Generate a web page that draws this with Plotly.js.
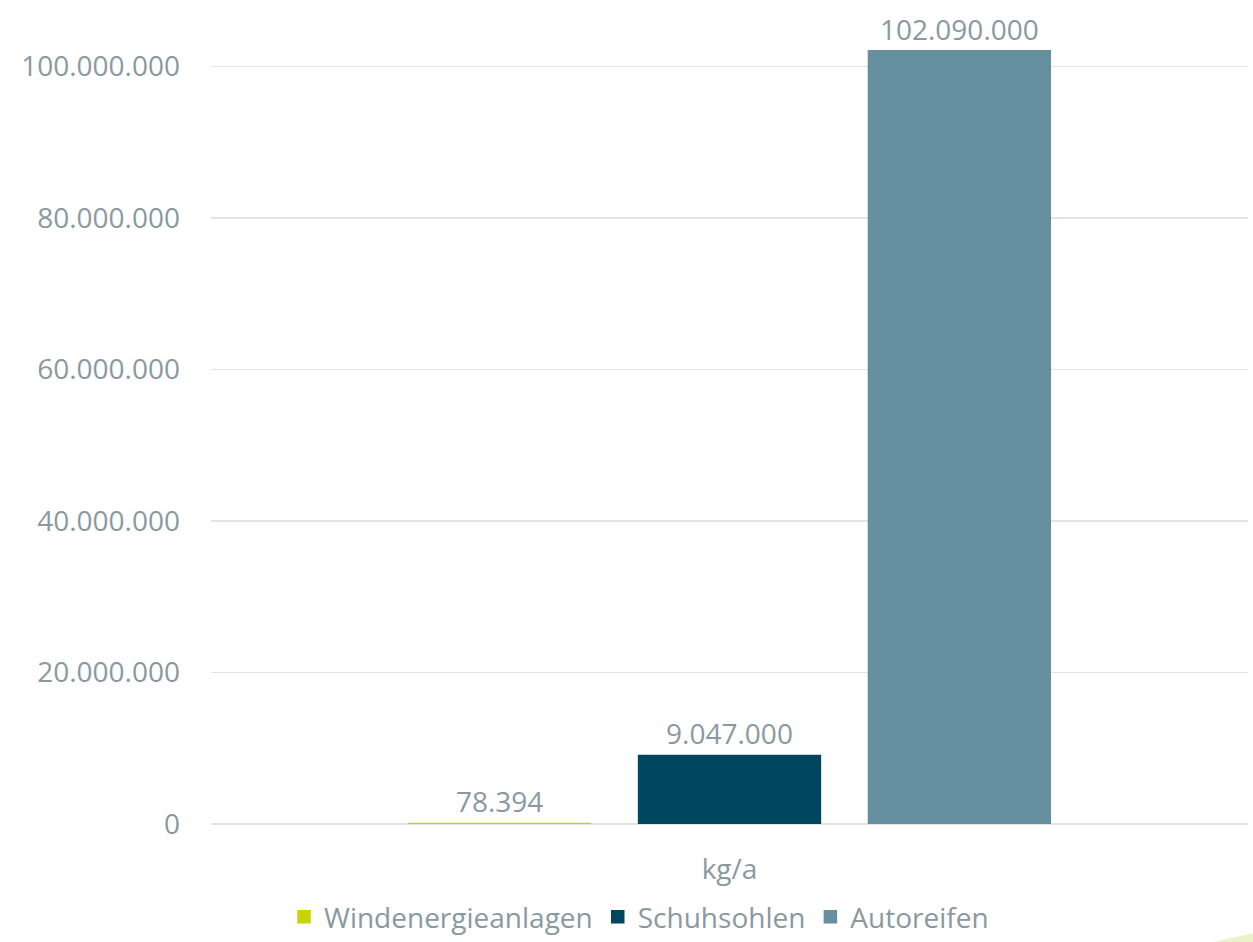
<!DOCTYPE html>
<html><head><meta charset="utf-8">
<script src="https://cdn.plot.ly/plotly-3.0.1.min.js"></script>
<style>html,body{margin:0;padding:0;background:#fff;}#chart{width:1253px;height:942px;}</style>
</head><body><div id="chart"></div>
<script>
const categories = ['kg/a'];
const seriesNames = ['Windenergieanlagen', 'Schuhsohlen', 'Autoreifen'];
const seriesValues = [[78394], [9047000], [102090000]];
const seriesColors = ['#c8d400', '#00465f', '#668f9f'];
const yTicks = [0, 20000000, 40000000, 60000000, 80000000, 100000000];

const textColor = '#8a999f';
const fontFam = '"Open Sans", "Noto Sans", sans-serif';

const traces = seriesNames.map((n, i) => ({
  type: 'bar', name: n, x: categories, y: seriesValues[i],
  marker: {color: seriesColors[i], line: {color: seriesColors[i], width: 1.5}},
  text: seriesValues[i], texttemplate: '%{y:,}', textposition: 'outside',
  textfont: {color: textColor, size: 28, family: fontFam},
  cliponaxis: false, hoverinfo: 'skip'
}));

const layout = {
  width: 1253, height: 942,
  margin: {l: 211, r: 5, t: 0, b: 118, autoexpand: false},
  paper_bgcolor: '#fff', plot_bgcolor: '#fff',
  separators: ',.',
  barmode: 'group', bargap: 0.335, bargroupgap: 0.209,
  font: {family: fontFam, color: textColor, size: 28},
  showlegend: true,
  legend: {orientation: 'h', xref: 'container', yref: 'container', x: 0.51, xanchor: 'center', y: -0.017, yanchor: 'bottom',
           font: {size: 28, color: textColor, family: fontFam}, itemwidth: 30, traceorder: 'normal'},
  xaxis: {showgrid: false, showline: false, zeroline: false, ticks: '', ticklabelstandoff: 26,
          tickfont: {size: 28, color: textColor}, fixedrange: true},
  yaxis: {range: [0, 108800000], tickvals: yTicks, tickformat: ',',
          showgrid: true, gridcolor: '#e3e3e3', gridwidth: 1.5,
          zeroline: true, zerolinecolor: '#e3e3e3', zerolinewidth: 1.5,
          showline: false, ticks: '', ticklabelstandoff: 30,
          tickfont: {size: 28, color: textColor}},
  shapes: [{type: 'path', xref: 'paper', yref: 'paper',
            path: 'M 0.963 -0.144 L 1.041 -0.1226 L 1.041 -0.144 Z',
            fillcolor: '#edf1c8', line: {width: 0}, layer: 'below'}]
};
Plotly.newPlot('chart', traces, layout, {displayModeBar: false, staticPlot: true});
</script></body></html>
